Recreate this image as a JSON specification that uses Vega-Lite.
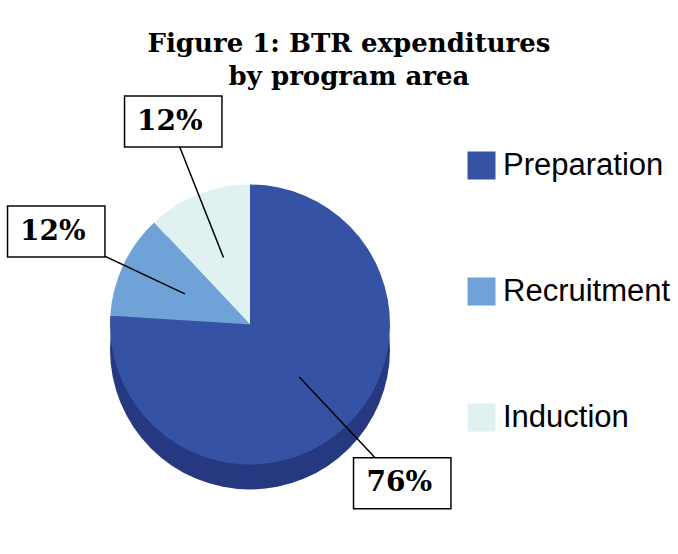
{
  "$schema": "https://vega.github.io/schema/vega-lite/v6.json",
  "width": 500,
  "height": 459,
  "autosize": {"type": "none"},
  "padding": {"left": 0, "top": 95, "right": 178, "bottom": 0},
  "background": "white",
  "title": {
    "text": ["Figure 1: BTR expenditures", "by program area"],
    "font": "DejaVu Serif",
    "fontWeight": "bold",
    "fontSize": 26,
    "lineHeight": 33,
    "anchor": "middle",
    "dx": 99,
    "offset": 5,
    "color": "black"
  },
  "data": {
    "values": [
      {"category": "Preparation", "share": 0.76},
      {"category": "Recruitment", "share": 0.12},
      {"category": "Induction", "share": 0.12}
    ]
  },
  "transform": [
    {"stack": "share", "groupby": [], "sort": [{"field": "share", "order": "descending"}, {"field": "category", "order": "descending"}], "as": ["s0", "s1"]}
  ],
  "config": {
    "view": {"stroke": null},
    "legend": {
      "orient": "none",
      "legendX": 466,
      "legendY": 55,
      "symbolType": "square",
      "symbolSize": 784,
      "symbolStrokeWidth": 0,
      "labelFont": "Liberation Sans",
      "labelFontSize": 31,
      "labelColor": "black",
      "labelLimit": 400,
      "rowPadding": 94,
      "labelOffset": 6,
      "padding": 0
    }
  },
  "layer": [
    {
      "mark": {"type": "arc", "radius": 140, "yOffset": 25, "color": "#253880"},
      "encoding": {
        "theta": {"aggregate": "sum", "field": "share", "type": "quantitative", "scale": {"domain": [0, 1]}}
      }
    },
    {
      "mark": {"type": "arc", "radius": 140},
      "encoding": {
        "theta": {"field": "s0", "type": "quantitative", "stack": null, "scale": {"domain": [0, 1]}},
        "theta2": {"field": "s1"},
        "color": {
          "field": "category",
          "type": "nominal",
          "sort": ["Preparation", "Recruitment", "Induction"],
          "scale": {"domain": ["Preparation", "Recruitment", "Induction"], "range": ["#3652a5", "#6fa3d8", "#dff1f1"]},
          "legend": {"title": null}
        }
      }
    },
    {
      "transform": [
        {"fold": ["s0", "s1"], "as": ["edge", "angle"]},
        {"aggregate": [{"op": "mean", "field": "angle", "as": "mid"}], "groupby": ["category", "share"]}
      ],
      "layer": [
        {
          "mark": {"type": "arc", "filled": false, "stroke": "black", "strokeWidth": 1.5, "radius": 218, "radius2": 72},
          "encoding": {
            "theta": {"field": "mid", "type": "quantitative", "stack": null, "scale": {"domain": [0, 1]}},
            "theta2": {"field": "mid"}
          }
        },
        {
          "mark": {"type": "text", "text": "█", "font": "DejaVu Sans Mono", "fontSize": 82, "angle": 90, "fill": "white", "stroke": "black", "strokeWidth": 1.5, "radius": 218, "align": "center", "baseline": "middle"},
          "encoding": {
            "theta": {"field": "mid", "type": "quantitative", "stack": null, "scale": {"domain": [0, 1]}}
          }
        },
        {
          "mark": {"type": "text", "font": "DejaVu Serif", "fontWeight": "bold", "fontSize": 28, "radius": 218, "color": "black", "align": "center", "baseline": "middle"},
          "encoding": {
            "theta": {"field": "mid", "type": "quantitative", "stack": null, "scale": {"domain": [0, 1]}},
            "text": {"field": "share", "type": "quantitative", "format": ".0%"}
          }
        }
      ]
    }
  ]
}
